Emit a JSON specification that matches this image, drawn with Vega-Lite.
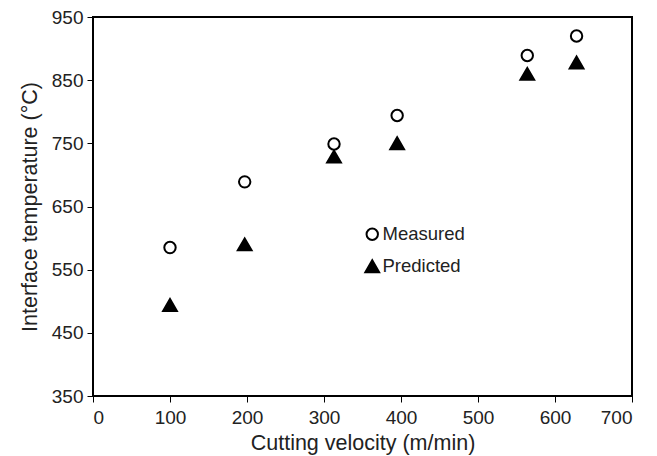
{
  "$schema": "https://vega.github.io/schema/vega-lite/v6.json",
  "autosize": {"type": "none"},
  "padding": {"left": 93, "top": 17, "right": 25, "bottom": 60},
  "width": 539,
  "height": 379,
  "background": "white",
  "config": {
    "font": "Liberation Sans",
    "view": {"stroke": "black", "strokeWidth": 2}
  },
  "data": {
    "values": [
      {"velocity": 100, "temp": 585, "series": "Measured"},
      {"velocity": 197, "temp": 689, "series": "Measured"},
      {"velocity": 313, "temp": 749, "series": "Measured"},
      {"velocity": 395, "temp": 794, "series": "Measured"},
      {"velocity": 564, "temp": 889, "series": "Measured"},
      {"velocity": 628, "temp": 920, "series": "Measured"},
      {"velocity": 100, "temp": 494, "series": "Predicted"},
      {"velocity": 197, "temp": 590, "series": "Predicted"},
      {"velocity": 313, "temp": 729, "series": "Predicted"},
      {"velocity": 395, "temp": 750, "series": "Predicted"},
      {"velocity": 564, "temp": 860, "series": "Predicted"},
      {"velocity": 628, "temp": 878, "series": "Predicted"}
    ]
  },
  "mark": {"type": "point", "stroke": "black", "strokeWidth": 2, "opacity": 1},
  "encoding": {
    "x": {
      "field": "velocity",
      "type": "quantitative",
      "scale": {"domain": [0, 700], "nice": false, "zero": false},
      "axis": {
        "title": "Cutting velocity (m/min)",
        "values": [0, 100, 200, 300, 400, 500, 600, 700],
        "grid": false,
        "domain": false,
        "tickColor": "black",
        "tickSize": 6,
        "labelFontSize": 19,
        "labelColor": "#222",
        "labelPadding": 6,
        "titleFontSize": 21.5,
        "titleFontWeight": "normal",
        "titleColor": "#222",
        "titlePadding": 5
      }
    },
    "y": {
      "field": "temp",
      "type": "quantitative",
      "scale": {"domain": [350, 950], "nice": false, "zero": false},
      "axis": {
        "title": "Interface temperature (°C)",
        "values": [350, 450, 550, 650, 750, 850, 950],
        "grid": false,
        "domain": false,
        "tickColor": "black",
        "tickSize": 6,
        "labelFontSize": 19,
        "labelColor": "#222",
        "labelPadding": 4,
        "titleFontSize": 21.5,
        "titleFontWeight": "normal",
        "titleColor": "#222",
        "titlePadding": 10
      }
    },
    "shape": {
      "field": "series",
      "type": "nominal",
      "scale": {"domain": ["Measured", "Predicted"], "range": ["circle", "triangle-up"]},
      "legend": {
        "title": null,
        "orient": "none",
        "legendX": 270,
        "legendY": 208,
        "padding": 0,
        "rowPadding": 12,
        "labelFontSize": 18.5,
        "labelColor": "#222",
        "labelOffset": 1,
        "symbolStrokeWidth": 2,
        "symbolStrokeColor": "black"
      }
    },
    "fill": {
      "field": "series",
      "type": "nominal",
      "scale": {"domain": ["Measured", "Predicted"], "range": ["white", "black"]}
    },
    "size": {
      "field": "series",
      "type": "nominal",
      "scale": {"domain": ["Measured", "Predicted"], "range": [130, 190]}
    }
  }
}
